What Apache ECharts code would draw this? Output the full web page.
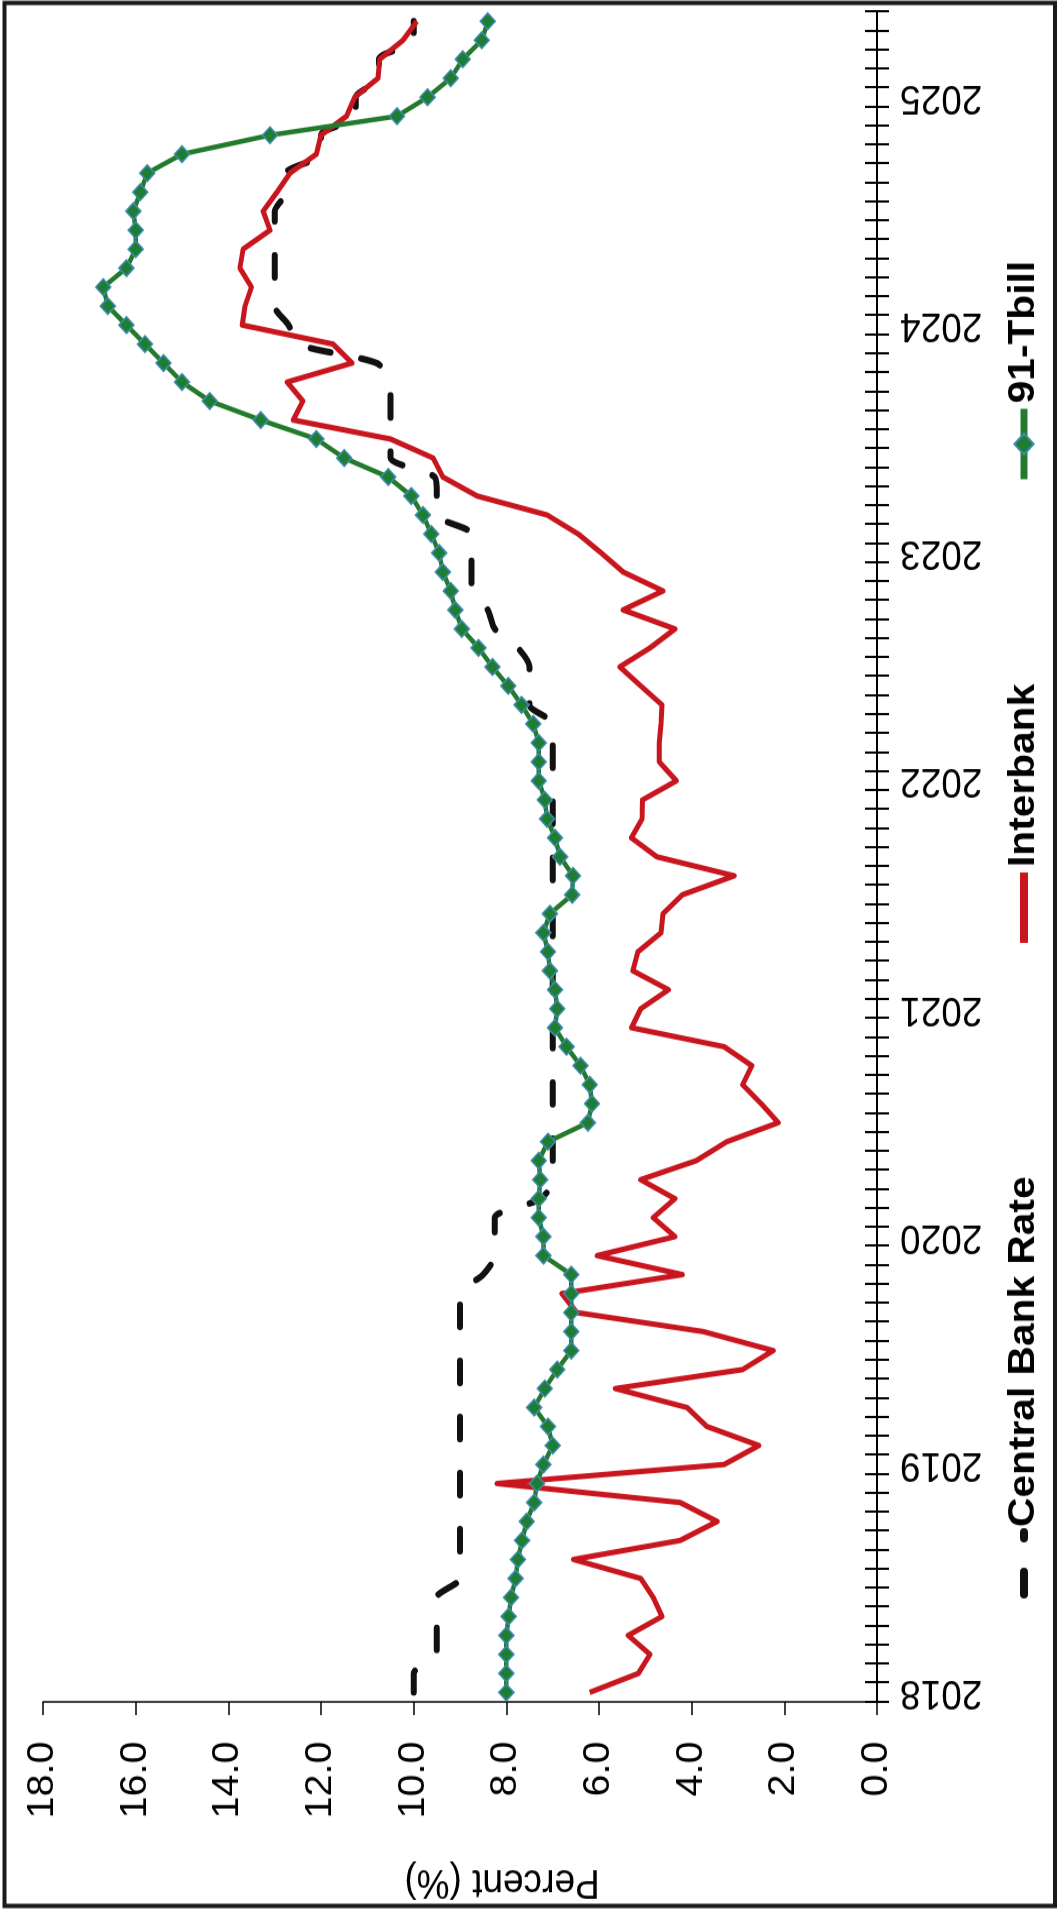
<!DOCTYPE html>
<html>
<head>
<meta charset="utf-8">
<title>Central Bank Rate, Interbank and 91-Tbill</title>
<script src="https://cdn.jsdelivr.net/npm/echarts@6/dist/echarts.min.js"></script>
<style>
  html, body { margin: 0; padding: 0; background: #fff; overflow: hidden; }
  #page { position: absolute; left: 0; top: 0; width: 1061px; height: 1912px; overflow: hidden; }
  /* chart is drawn landscape, then turned a quarter turn to the left */
  #vis {
    position: absolute; left: 0; top: 0;
    width: 1738px; height: 1061px;
    transform-origin: 0 0;
    transform: translateY(1912px) rotate(-90deg) scaleX(1.1);
  }
</style>
</head>
<body>
<div id="page"><div id="vis"></div></div>
<script>
// years on the time axis, monthly categories Jan 2018 .. May 2025
const years = ['2018', '2019', '2020', '2021', '2022', '2023', '2024', '2025'];
const monthNums = ['01','02','03','04','05','06','07','08','09','10','11','12'];
const monthCount = 89;

const seriesNames = ['Central Bank Rate', 'Interbank', '91-Tbill'];

// percent values, one per month
const cbr = [
  10.0, 10.0, 9.5, 9.5, 9.5, 9.5, 9.0, 9.0, 9.0, 9.0,
  9.0, 9.0, 9.0, 9.0, 9.0, 9.0, 9.0, 9.0, 9.0, 9.0,
  9.0, 9.0, 8.5, 8.25, 8.25, 8.25, 7.25, 7.0, 7.0, 7.0,
  7.0, 7.0, 7.0, 7.0, 7.0, 7.0, 7.0, 7.0, 7.0, 7.0,
  7.0, 7.0, 7.0, 7.0, 7.0, 7.0, 7.0, 7.0, 7.0, 7.0,
  7.0, 7.0, 7.5, 7.5, 7.5, 7.75, 8.25, 8.4, 8.75, 8.75,
  8.75, 8.75, 9.5, 9.5, 9.55, 10.5, 10.5, 10.5, 10.5, 10.5,
  10.8, 12.5, 12.7, 13.0, 13.0, 13.0, 13.0, 13.0, 13.0, 12.75,
  12.75, 12.0, 12.0, 11.25, 11.25, 10.75, 10.75, 10.0, 10.0
];
const interbank = [
  6.2, 5.15, 4.9, 5.37, 4.64, 4.83, 5.1, 6.55, 4.25, 3.45,
  4.25, 8.2, 3.3, 2.55, 3.67, 4.1, 5.65, 2.9, 2.24, 3.75,
  6.48, 6.8, 4.2, 6.04, 4.36, 4.83, 4.36, 5.1, 3.9, 3.24,
  2.13, 2.5, 2.9, 2.7, 3.3, 5.3, 5.1, 4.5, 5.27, 5.16,
  4.66, 4.62, 4.2, 3.08, 4.75, 5.3, 5.07, 5.06, 4.33, 4.7,
  4.7, 4.66, 4.64, 5.1, 5.55, 4.9, 4.36, 5.48, 4.62, 5.48,
  5.95, 6.45, 7.12, 8.63, 9.37, 9.58, 10.5, 12.6, 12.39, 12.73,
  11.33, 11.74, 13.7, 13.64, 13.5, 13.75, 13.68, 13.1, 13.25, 12.95,
  12.67, 12.1, 12.0, 11.45, 11.27, 10.77, 10.73, 10.23, 9.93
];
const tbill = [
  8.0, 8.0, 8.0, 8.0, 7.95, 7.9, 7.8, 7.75, 7.66, 7.56,
  7.4, 7.34, 7.2, 7.0, 7.1, 7.4, 7.17, 6.9, 6.6, 6.6,
  6.6, 6.6, 6.6, 7.2, 7.2, 7.3, 7.3, 7.27, 7.3, 7.1,
  6.24, 6.15, 6.2, 6.4, 6.7, 6.95, 6.9, 6.95, 7.06, 7.1,
  7.2, 7.06, 6.58, 6.56, 6.84, 6.95, 7.12, 7.17, 7.3, 7.3,
  7.3, 7.42, 7.67, 7.96, 8.3, 8.6, 8.96, 9.1, 9.2, 9.37,
  9.45, 9.62, 9.8, 10.05, 10.55, 11.5, 12.1, 13.3, 14.4, 15.0,
  15.4, 15.8, 16.2, 16.6, 16.7, 16.2, 16.0, 16.0, 16.05, 15.9,
  15.75, 15.0, 13.1, 10.36, 9.7, 9.2, 8.94, 8.53, 8.4
];

const months = [];
years.forEach(y => monthNums.forEach(m => {
  if (months.length < monthCount) months.push(y + '-' + m);
}));

const font = '"Liberation Sans", Arial, sans-serif';

function createChart() {
  const chart = echarts.init(document.getElementById('vis'), null, { renderer: 'canvas' });

  const legendBase = {
    orient: 'horizontal', top: 1004, padding: 0, itemGap: 0,
    textStyle: { fontFamily: font, fontSize: 37, fontWeight: 'bold', color: '#000', lineHeight: 40 }
  };

  const option = {
    animation: false,
    backgroundColor: '#fff',
    textStyle: { fontFamily: font },
    grid: { left: 191, right: 10.5, top: 43, bottom: 184, containLabel: false, outerBoundsMode: 'none' },
    xAxis: [
      {
        type: 'category', data: months, boundaryGap: true, position: 'bottom',
        axisLine: { show: true, lineStyle: { color: '#000', width: 2 } },
        axisTick: { show: true, interval: 0, length: 12, lineStyle: { color: '#000', width: 2 } },
        axisLabel: {
          interval: 11, rotate: 90, margin: 23, fontSize: 37, color: '#000', fontFamily: font,
          formatter: v => v.slice(0, 4)
        },
        splitLine: { show: false }
      },
      {
        // second copy only for the inward half of the crossing ticks
        type: 'category', data: months, boundaryGap: true, position: 'bottom',
        axisLine: { show: false },
        axisTick: { show: true, inside: true, interval: 0, length: 12, lineStyle: { color: '#000', width: 2 } },
        axisLabel: { show: false },
        splitLine: { show: false }
      }
    ],
    yAxis: {
      type: 'value', min: 0, max: 18, interval: 2,
      splitLine: { show: false },
      axisLine: { show: true, lineStyle: { color: '#000', width: 1.5 } },
      axisTick: { show: true, length: 12, lineStyle: { color: '#000', width: 1.5 } },
      axisLabel: { margin: 36, fontSize: 36, color: '#000', fontFamily: font, formatter: v => v.toFixed(1) },
      name: 'Percent (%)', nameLocation: 'middle', nameRotate: 90, nameGap: 145,
      nameMoveOverlap: false,
      nameTextStyle: { fontSize: 37, color: '#000', fontFamily: font, padding: [0, 84, 0, 0] }
    },
    legend: [
      Object.assign({}, legendBase, {
        data: [seriesNames[0]], left: 285, itemWidth: 56, itemHeight: 14,
        itemStyle: { opacity: 0 }, lineStyle: { width: 8 }
      }),
      Object.assign({}, legendBase, {
        data: [seriesNames[1]], left: 877, itemWidth: 64, itemHeight: 14,
        itemStyle: { opacity: 0 }, lineStyle: { width: 8 }
      }),
      Object.assign({}, legendBase, {
        data: [seriesNames[2]], left: 1299, itemWidth: 64, itemHeight: 24,
        lineStyle: { width: 7 }
      })
    ],
    graphic: [{
      type: 'rect', silent: true, z: 100,
      shape: { x: 5.5, y: 4.5, width: 1730, height: 1050.5 },
      style: { fill: 'none', stroke: '#1a1a1a', lineWidth: 4 }
    }],
    series: [
      {
        name: seriesNames[0], type: 'line', data: cbr, xAxisIndex: 0,
        symbol: 'none', smooth: 0.25, z: 2,
        lineStyle: { color: '#111', width: 6, type: [20, 31], cap: 'round' },
        itemStyle: { color: '#111' }
      },
      {
        name: seriesNames[1], type: 'line', data: interbank, xAxisIndex: 0,
        symbol: 'none', z: 3,
        lineStyle: { color: '#c8161e', width: 5, join: 'round' },
        itemStyle: { color: '#c8161e' }
      },
      {
        name: seriesNames[2], type: 'line', data: tbill, xAxisIndex: 0,
        symbol: 'diamond', symbolSize: 15, showAllSymbol: true, z: 4,
        lineStyle: { color: '#247a2c', width: 4.5 },
        itemStyle: { color: '#1e7d32', borderColor: '#3d8bb0', borderWidth: 1.5 }
      }
    ]
  };

  chart.setOption(option);
  return chart;
}

createChart();
</script>
</body>
</html>
